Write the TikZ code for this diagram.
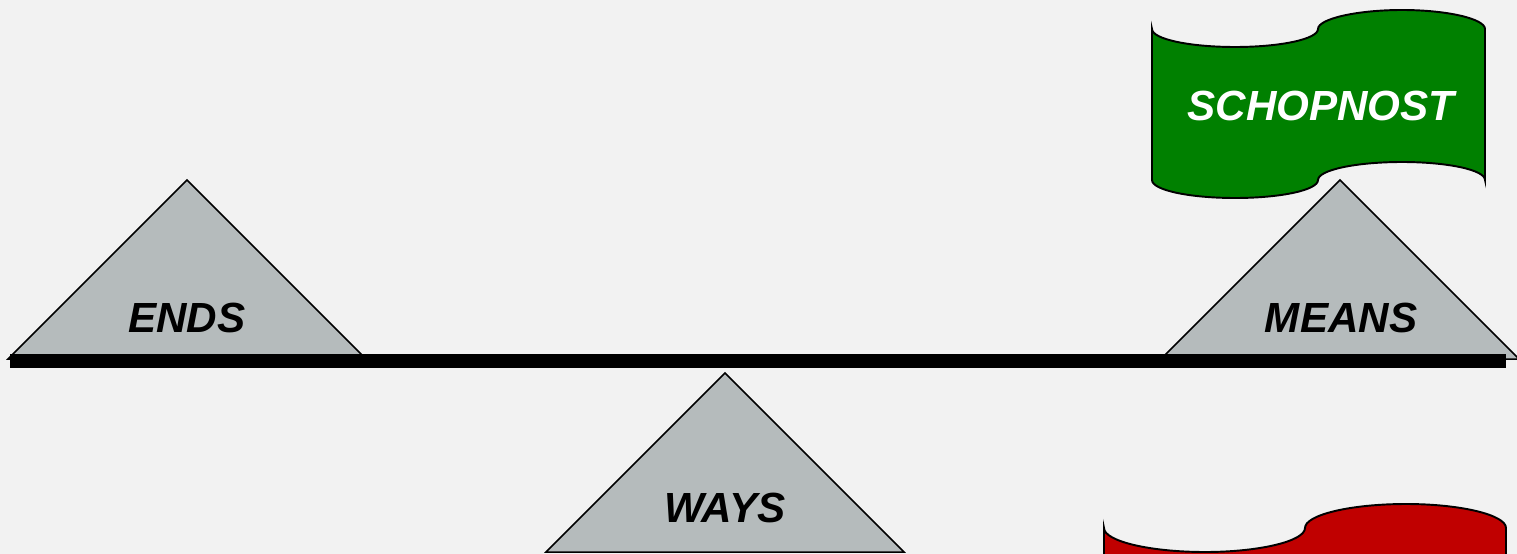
\documentclass[tikz,border=0pt]{standalone}
\usepackage{fontspec}
\setmainfont{Liberation Sans}
\usepackage{xcolor}
\definecolor{pagegray}{RGB}{242,242,242}
\definecolor{wedgegray}{RGB}{181,187,188}
\definecolor{flaggreen}{RGB}{0,128,0}
\definecolor{flagred}{RGB}{192,0,0}

\begin{document}
\begin{tikzpicture}[x=0.02cm, y=-0.02cm,
  wedge/.style={draw=black, fill=wedgegray, line width=0.85pt},
  flag/.style={draw=black, line width=1.1pt},
  every node/.style={font=\fontsize{24}{28}\selectfont\bfseries\itshape, inner sep=0pt, anchor=base}]
\useasboundingbox (0,0) rectangle (1517,554);
\clip (0,0) rectangle (1517,554);
\fill[pagegray] (0,0) rectangle (1517,554);

% the three wedges
\draw[wedge] (8,359) -- (187,180) -- (366,359) -- cycle;
\draw[wedge] (1161,359) -- (1340,180) -- (1519,359) -- cycle;
\draw[wedge] (546,552) -- (725,373) -- (904,552) -- cycle;

% the beam
\fill[black] (10,354) rectangle (1506,368);

% flags
\draw[flag, fill=flaggreen] (1152,29) .. controls (1152,39) and (1189,47) .. (1235,47)
  .. controls (1281,47) and (1318,39) .. (1318,29)
  .. controls (1318,19) and (1356,10) .. (1402,10)
  .. controls (1448,10) and (1485,19) .. (1485,29) -- (1485,180)
  .. controls (1485,170) and (1448,162) .. (1402,162)
  .. controls (1356,162) and (1318,170) .. (1318,180)
  .. controls (1318,190) and (1281,198) .. (1235,198)
  .. controls (1189,198) and (1152,190) .. (1152,180) -- cycle;
\draw[flag, fill=flagred] (1104,528) .. controls (1104,541) and (1149,552) .. (1205,552)
  .. controls (1260,552) and (1305,541) .. (1305,528)
  .. controls (1305,515) and (1350,504) .. (1406,504)
  .. controls (1461,504) and (1506,515) .. (1506,528) -- (1506,700) -- (1104,700) -- cycle;

\node (ends)  at (187,332)  {ENDS};
\node (means) at (1341,332) {MEANS};
\node (ways)  at (725,522)  {WAYS};
\node[text=white] (schop) at (1321,120) {SCHOPNOST};
\end{tikzpicture}
\end{document}
